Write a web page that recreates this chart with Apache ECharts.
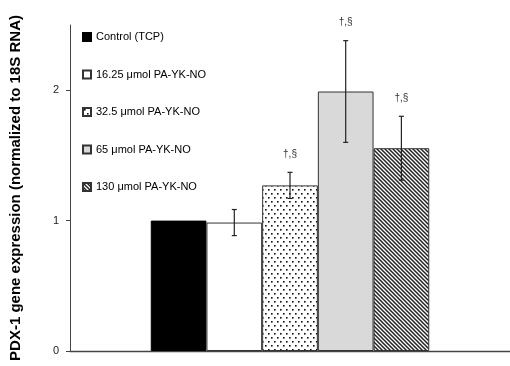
<!DOCTYPE html>
<html>
<head>
<meta charset="utf-8">
<script src="https://cdn.jsdelivr.net/npm/echarts@6/dist/echarts.min.js"></script>
<style>
  html, body { margin: 0; padding: 0; background: #fff; }
  #chart { width: 510px; height: 366px; }
</style>
</head>
<body>
<div id="chart"></div>
<script>
// PDX-1 expression per treatment group
var groups = ['Control (TCP)', '16.25 \u03bcmol PA-YK-NO', '32.5 \u03bcmol PA-YK-NO', '65 \u03bcmol PA-YK-NO', '130 \u03bcmol PA-YK-NO'];
var means = [1.0, 0.985, 1.27, 1.99, 1.555];
var errors = [0, 0.1, 0.1, 0.39, 0.245];
var marks = ['', '', '\u2020,\u00a7', '\u2020,\u00a7', '\u2020,\u00a7'];
var yTicks = [0, 1, 2];

var BAR_W = 55.7;
var FONT = 'Liberation Sans, Arial, sans-serif';

// fill patterns
function dotPattern() {
  var c = document.createElement('canvas');
  c.width = 6; c.height = 8;
  var g = c.getContext('2d');
  g.fillStyle = '#fff'; g.fillRect(0, 0, 6, 8);
  g.fillStyle = '#111';
  g.fillRect(1, 1, 1.6, 1.6);
  g.fillRect(4, 5, 1.6, 1.6);
  return c;
}
function hatchPattern() {
  var c = document.createElement('canvas');
  c.width = 4; c.height = 4;
  var g = c.getContext('2d');
  g.fillStyle = '#fff'; g.fillRect(0, 0, 4, 4);
  g.strokeStyle = '#222';
  g.lineWidth = 1.5;
  g.beginPath();
  g.moveTo(-1, -1); g.lineTo(5, 5);
  g.moveTo(-1, 3); g.lineTo(1, 5);
  g.moveTo(3, -1); g.lineTo(5, 1);
  g.stroke();
  return c;
}

var fills = [
  '#000000',
  '#ffffff',
  { image: dotPattern(), repeat: 'repeat' },
  '#d9d9d9',
  { image: hatchPattern(), repeat: 'repeat' }
];

var series = groups.map(function (name, i) {
  return {
    name: name,
    type: 'bar',
    barWidth: BAR_W,
    barGap: '0%',
    data: [means[i]],
    itemStyle: { color: fills[i], borderColor: i === 0 ? '#000' : '#333', borderWidth: 1 },
    silent: true,
    z: 2
  };
});

// error bars and significance marks
series.push({
  type: 'custom',
  data: means.map(function (m, i) { return [0, m, errors[i], i]; }),
  renderItem: function (params, api) {
    var i = api.value(3);
    var m = api.value(1), e = api.value(2);
    if (!e) return { type: 'group', children: [] };
    var center = api.coord([0, m]);
    var x = center[0] + (i - 2) * BAR_W;
    var top = api.coord([0, m + e])[1];
    var bot = api.coord([0, m - e])[1];
    var cap = 2.5;
    var st = { stroke: '#222', lineWidth: 1.2 };
    var children = [
      { type: 'line', shape: { x1: x, y1: top, x2: x, y2: bot }, style: st },
      { type: 'line', shape: { x1: x - cap, y1: top, x2: x + cap, y2: top }, style: st },
      { type: 'line', shape: { x1: x - cap, y1: bot, x2: x + cap, y2: bot }, style: st }
    ];
    if (marks[i]) {
      children.push({
        type: 'text',
        style: { x: x, y: top - 18, text: marks[i], fill: '#333', font: '10px ' + FONT, align: 'center', verticalAlign: 'middle' }
      });
    }
    return { type: 'group', children: children };
  },
  silent: true,
  z: 5
});

var chart = echarts.init(document.getElementById('chart'), null, { renderer: 'canvas' });
chart.setOption({
  animation: false,
  backgroundColor: '#fff',
  grid: { left: 66, top: 25, width: 447, bottom: 15 },
  legend: {
    orient: 'vertical',
    left: 77,
    top: 26,
    itemWidth: 8,
    itemHeight: 8,
    itemGap: 25.5,
    icon: 'rect',
    textStyle: { fontFamily: FONT, fontSize: 11, color: '#000', lineHeight: 12 },
    selectedMode: false,
    data: groups
  },
  xAxis: {
    type: 'category',
    data: [''],
    axisLine: { lineStyle: { color: '#444', width: 1.3 } },
    axisTick: { show: false },
    axisLabel: { show: false }
  },
  yAxis: {
    type: 'value',
    min: 0,
    max: 2.5,
    interval: 1,
    name: 'PDX-1 gene expression (normalized to 18S RNA)',
    nameLocation: 'middle',
    nameGap: 47,
    nameTextStyle: { fontFamily: FONT, fontSize: 15, fontWeight: 'bold', color: '#000' },
    axisLine: { show: true, lineStyle: { color: '#444', width: 1 } },
    axisTick: { show: true, length: 4, customValues: yTicks, lineStyle: { color: '#444' } },
    axisLabel: { customValues: yTicks, fontFamily: FONT, fontSize: 11, color: '#222', margin: 11 },
    splitLine: { show: false }
  },
  series: series
});
</script>
</body>
</html>
